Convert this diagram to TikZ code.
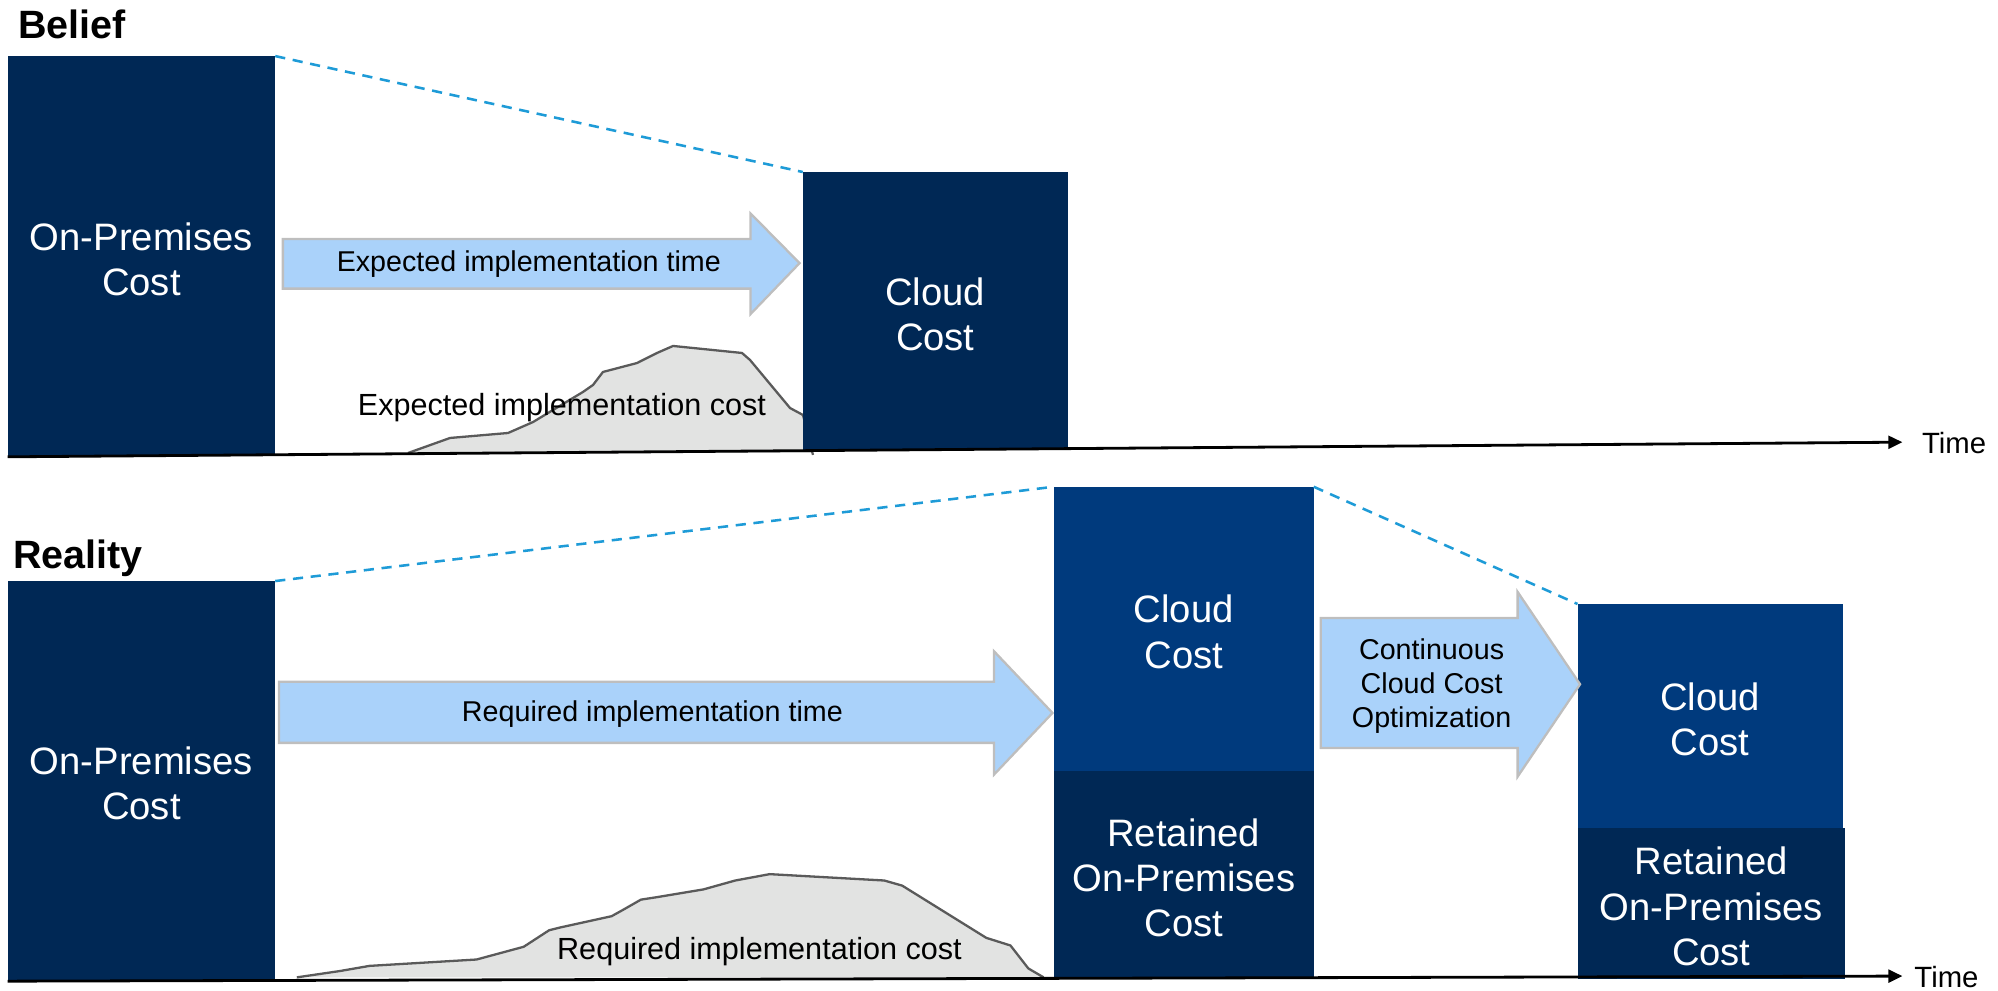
\documentclass[tikz,border=0pt]{standalone}
\usepackage{fontspec}
\setmainfont{Liberation Sans}
\usetikzlibrary{arrows.meta,fit}
\definecolor{navy}{RGB}{0,40,85}
\definecolor{midblue}{RGB}{0,58,125}
\definecolor{arrowfill}{RGB}{170,210,250}
\definecolor{arrowedge}{RGB}{190,190,190}
\definecolor{dashblue}{RGB}{30,155,215}
\definecolor{humpfill}{RGB}{226,227,226}
\definecolor{humpedge}{RGB}{90,90,90}

\begin{document}
\begin{tikzpicture}[x=0.5pt,y=-0.5pt,
  costbox/.style={inner sep=0pt,outer sep=0pt,draw=none},
  navybox/.style={costbox,fill=navy},
  bluebox/.style={costbox,fill=midblue},
  boxtext/.style={inner sep=0pt,text=white,align=center,yshift=-1.2pt,
    font=\fontsize{15}{17.75}\selectfont},
  guide/.style={draw=dashblue,line width=1pt,dash pattern=on 4pt off 3pt},
  flowarrow/.style={fill=arrowfill,draw=arrowedge,line width=0.9pt,line join=miter},
  flowtext/.style={align=center,font=\fontsize{11.25}{13.4}\selectfont,inner sep=0pt},
  humpshape/.style={fill=humpfill},
  humpline/.style={draw=humpedge,line width=0.9pt,line join=round},
  humptext/.style={font=\fontsize{12}{14}\selectfont,inner sep=0pt,anchor=base},
  axisline/.style={line width=1.1pt,-{Triangle[length=5.5pt,width=5pt]}},
  timelabel/.style={font=\fontsize{11.5}{13}\selectfont,inner sep=0pt,anchor=west},
  heading/.style={font=\fontsize{15.5}{18}\selectfont\bfseries,inner sep=0pt,anchor=west},
]
\useasboundingbox (0,0) rectangle (1568,777);

% ---------------- Belief ----------------
\node[heading] (belief) at (14,19) {Belief};

% expected implementation cost curve
\fill[humpshape] (320.2,355.5) -- (353.2,343.7) -- (398.7,339.8) -- (418.3,331.2)
  -- (457.5,307.6) -- (465.4,302.1) -- (473.2,291.9) -- (499.9,284.9) -- (515.6,277.0)
  -- (528.2,271.5) -- (582.3,277.0) -- (588.6,282.5) -- (620.0,320.2) -- (630.2,325.7)
  -- (638,355.5) -- cycle;
\draw[humpline] (320.2,355.5) -- (353.2,343.7) -- (398.7,339.8) -- (418.3,331.2)
  -- (457.5,307.6) -- (465.4,302.1) -- (473.2,291.9) -- (499.9,284.9) -- (515.6,277.0)
  -- (528.2,271.5) -- (582.3,277.0) -- (588.6,282.5) -- (620.0,320.2) -- (630.2,325.7)
  -- (638,357);
\node[humptext] (expcost) at (441,326) {Expected implementation cost};

\node[navybox,fit={(6,44)(216,358)}] (opA) {};
\node[boxtext] (opAtext) at (opA.center) {On-Premises\\Cost};
\node[navybox,fit={(630,135)(838,353)}] (cloudA) {};
\node[boxtext] (cloudAtext) at (cloudA.center) {Cloud\\Cost};

\path[flowarrow] (222,187.5) -- (589,187.5) -- (589,167.5) -- (627.5,206.5)
  -- (589,246.5) -- (589,226.5) -- (222,226.5) -- cycle;
\node[flowtext] (exptime) at (415,207.5) {Expected implementation time};

\draw[guide] (opA.north east) -- (cloudA.north west);

\coordinate (axA0) at (6,358.5);
\coordinate (axA1) at (1493,347);
\draw[axisline] (axA0) -- (axA1);
\node[timelabel] (timeA) at (1508,348) {Time};

% ---------------- Reality ----------------
\node[heading] (reality) at (10,438) {Reality};

% required implementation cost curve
\fill[humpshape] (233,767) -- (267,762) -- (290,758) -- (374,753) -- (411,743)
  -- (431,730) -- (439,728) -- (480,719) -- (489,714) -- (503,706) -- (516,704)
  -- (552,698) -- (577,691) -- (604,686) -- (694,691) -- (708,695) -- (774,736)
  -- (793,742) -- (807,760) -- (819,767) -- cycle;
\draw[humpline] (233,767) -- (267,762) -- (290,758) -- (374,753) -- (411,743)
  -- (431,730) -- (439,728) -- (480,719) -- (489,714) -- (503,706) -- (516,704)
  -- (552,698) -- (577,691) -- (604,686) -- (694,691) -- (708,695) -- (774,736)
  -- (793,742) -- (807,760) -- (819,767);
\node[humptext] (reqcost) at (596,753) {Required implementation cost};

\node[navybox,fit={(6,456)(216,769)}] (opB) {};
\node[boxtext] (opBtext) at (opB.center) {On-Premises\\Cost};
\node[bluebox,fit={(827,382)(1031,605)}] (cloudB) {};
\node[boxtext] (cloudBtext) at (cloudB.center) {Cloud\\Cost};
\node[navybox,fit={(827,605)(1031,768)}] (retB) {};
\node[boxtext] (retBtext) at (retB.center) {Retained\\On-Premises\\Cost};
\node[bluebox,fit={(1238,474)(1446,650)}] (cloudC) {};
\node[boxtext] (cloudCtext) at (cloudC.center) {Cloud\\Cost};
\node[navybox,fit={(1238,650)(1448,768)}] (retC) {};
\node[boxtext] (retCtext) at (retC.center) {Retained\\On-Premises\\Cost};

\path[flowarrow] (219,535) -- (780,535) -- (780,511) -- (826,559.5)
  -- (780,608) -- (780,583) -- (219,583) -- cycle;
\node[flowtext] (reqtime) at (512,560.5) {Required implementation time};

\path[flowarrow] (1036.5,485) -- (1191,485) -- (1191,464.5) -- (1240,537)
  -- (1191,609.5) -- (1191,587) -- (1036.5,587) -- cycle;
\node[flowtext] (optim) at (1123.5,538.5) {Continuous\\Cloud Cost\\Optimization};

\draw[guide] (opB.north east) -- (cloudB.north west);
\draw[guide] (cloudB.north east) -- (cloudC.north west);

\coordinate (axB0) at (6,770);
\coordinate (axB1) at (1493,766);
\draw[axisline] (axB0) -- (axB1);
\node[timelabel] (timeB) at (1502,767) {Time};
\end{tikzpicture}
\end{document}
